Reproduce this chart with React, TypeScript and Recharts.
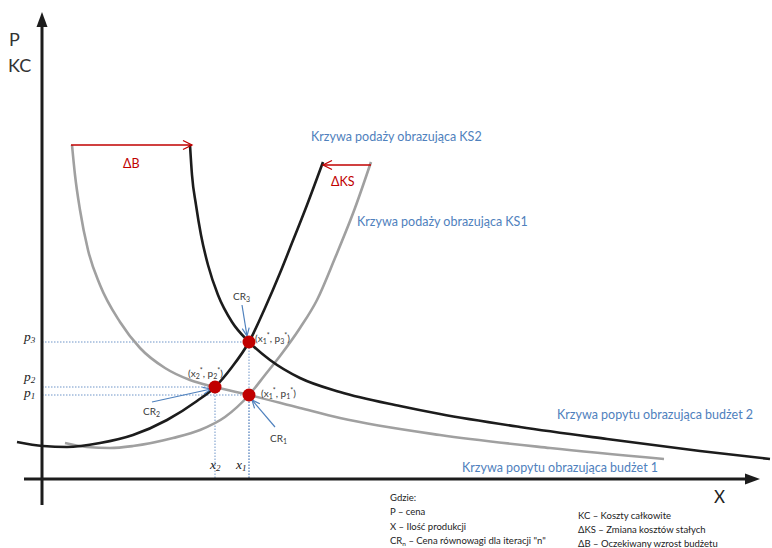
import { ComposedChart, Line, Scatter, XAxis, YAxis, ReferenceLine } from "recharts";

// Chart units: x = quantity, y = price/cost, origin where the two axes cross.
const DEMAND_B1 = [
  { x: 30, y: 333 }, { x: 33, y: 303 }, { x: 38, y: 268 }, { x: 46, y: 228 },
  { x: 58, y: 193 }, { x: 78, y: 156 }, { x: 98, y: 130 }, { x: 123, y: 110 },
  { x: 148, y: 98 }, { x: 173, y: 91 }, { x: 207, y: 83 }, { x: 258, y: 70 },
  { x: 298, y: 60 }, { x: 398, y: 43 }, { x: 508, y: 30 }, { x: 622, y: 19 },
];
const DEMAND_B2 = [
  { x: 148, y: 333 }, { x: 150, y: 303 }, { x: 154, y: 273 }, { x: 159, y: 243 },
  { x: 166, y: 213 }, { x: 176, y: 183 }, { x: 190, y: 156 }, { x: 207, y: 136 },
  { x: 228, y: 118 }, { x: 258, y: 100 }, { x: 298, y: 86 }, { x: 358, y: 72 },
  { x: 398, y: 64 }, { x: 478, y: 51 }, { x: 565, y: 39 }, { x: 658, y: 27 },
  { x: 728, y: 19 },
];
const SUPPLY_KS1 = [
  { x: 23, y: 35 }, { x: 45, y: 31 }, { x: 68, y: 30 }, { x: 91, y: 32 },
  { x: 131, y: 40 }, { x: 158, y: 48 }, { x: 183, y: 61 }, { x: 207, y: 83 },
  { x: 223, y: 103 }, { x: 238, y: 122 }, { x: 258, y: 150 }, { x: 275, y: 178 },
  { x: 293, y: 220 }, { x: 313, y: 270 }, { x: 329, y: 316 },
];
const SUPPLY_KS2 = [
  { x: -25, y: 36 }, { x: 1, y: 32 }, { x: 25, y: 31 }, { x: 58, y: 35 },
  { x: 91, y: 43 }, { x: 125, y: 58 }, { x: 155, y: 77 }, { x: 173, y: 91 },
  { x: 190, y: 111 }, { x: 207, y: 136 }, { x: 223, y: 170 }, { x: 238, y: 205 },
  { x: 248, y: 230 }, { x: 265, y: 273 }, { x: 281, y: 316 },
];

// equilibrium points CR1..CR3
const EQUILIBRIA = [
  { x: 207, y: 83 },
  { x: 173, y: 91 },
  { x: 207, y: 136 },
];
const P_TICKS = [83, 91, 136];
const P_SUBS = ["1", "2", "3"];
const X_TICKS = [173, 207];
const X_SUBS = ["2", "1"];

const BUDGET_SHIFT = [{ x: 29, y: 333 }, { x: 150, y: 333 }];
const COST_SHIFT = [{ x: 329, y: 313 }, { x: 281, y: 313 }];
const CR_ARROWS = [
  [{ x: 233, y: 51 }, { x: 210, y: 78 }],
  [{ x: 110, y: 76 }, { x: 169, y: 89 }],
  [{ x: 200, y: 173 }, { x: 205, y: 142 }],
];
const X_AXIS = [{ x: -18, y: -1 }, { x: 718, y: -1 }];
const Y_AXIS = [{ x: 0, y: -27 }, { x: 0, y: 466 }];

const W = 772;
const H = 548;
const BLACK = "#1c1c1c";
const GREY = "#a0a0a0";
const RED = "#c00000";
const BLUE = "#4f81bd";
const GUIDE = "#6f95c8";
const TEXT = "#3a3a3a";
const FONT = "Lato, 'Noto Sans', sans-serif";

type Seg = { x1?: number | string; y1?: number | string; x2?: number | string; y2?: number | string };

// line with an arrow head at its second point
const arrow =
  (color: string, width: number, filled: boolean, len: number, half: number) =>
  (p: Seg) => {
    const x1 = Number(p.x1), y1 = Number(p.y1), x2 = Number(p.x2), y2 = Number(p.y2);
    const a = Math.atan2(y2 - y1, x2 - x1);
    const ux = Math.cos(a), uy = Math.sin(a);
    const bx = x2 - ux * len, by = y2 - uy * len;
    const lx = bx - uy * half, ly = by + ux * half;
    const rx = bx + uy * half, ry = by - ux * half;
    if (filled) {
      return (
        <g>
          <line x1={x1} y1={y1} x2={bx} y2={by} stroke={color} strokeWidth={width} />
          <path d={`M${x2},${y2}L${lx},${ly}L${rx},${ry}Z`} fill={color} />
        </g>
      );
    }
    return (
      <g>
        <line x1={x1} y1={y1} x2={x2} y2={y2} stroke={color} strokeWidth={width} />
        <polyline
          points={`${lx},${ly} ${x2},${y2} ${rx},${ry}`}
          fill="none"
          stroke={color}
          strokeWidth={width}
        />
      </g>
    );
  };

// p1 and p2 sit close together, so they are pushed apart a little
function PTick(props: any) {
  const { y, index } = props;
  const sub = P_SUBS[index];
  const nudge = sub === "2" ? -5 : sub === "1" ? 3 : 0;
  return (
    <text
      x={24}
      y={y - 1 + nudge}
      fontFamily="'Liberation Serif', serif"
      fontStyle="italic"
      fontSize={13.5}
      fill="#222"
      textAnchor="start"
    >
      p<tspan fontSize={9} dy={2}>{sub}</tspan>
    </text>
  );
}

function XTick(props: any) {
  const { x, index } = props;
  const sub = X_SUBS[index];
  const shift = sub === "1" ? -13 : -5;
  return (
    <text
      x={x + shift}
      y={469}
      fontFamily="'Liberation Serif', serif"
      fontStyle="italic"
      fontSize={13.5}
      fill="#222"
      textAnchor="start"
    >
      x<tspan fontSize={9} dy={2}>{sub}</tspan>
    </text>
  );
}

function Star({ x, y, a, b, aSub, bSub }: { x: number; y: number; a: string; b: string; aSub: string; bSub: string }) {
  return (
    <text x={x} y={y} fontSize={10} fill={TEXT} fontFamily={FONT}>
      ({a}
      <tspan fontSize={7} dy={2}>{aSub}</tspan>
      <tspan fontSize={7} dy={-6}>*</tspan>
      <tspan dy={4}>, {b}</tspan>
      <tspan fontSize={7} dy={2}>{bSub}</tspan>
      <tspan fontSize={7} dy={-6}>*</tspan>
      <tspan dy={4}>)</tspan>
    </text>
  );
}

function CR({ x, y, n }: { x: number; y: number; n: string }) {
  return (
    <text x={x} y={y} fontSize={10} fill={TEXT} fontFamily={FONT}>
      CR<tspan fontSize={7} dy={2}>{n}</tspan>
    </text>
  );
}

export default function App() {
  const guides = EQUILIBRIA.flatMap((p) => [
    [{ x: 0, y: p.y }, { x: p.x, y: p.y }],
    [{ x: p.x, y: 0 }, { x: p.x, y: p.y }],
  ]);
  const curve = (data: { x: number; y: number }[], color: string, key: string) => (
    <Line
      key={key}
      data={data}
      dataKey="y"
      type="monotone"
      stroke={color}
      strokeWidth={2.6}
      dot={false}
      activeDot={false}
      isAnimationActive={false}
    />
  );

  return (
    <div style={{ position: "relative", width: W, height: H, background: "#fff" }}>
      <style>{`body{margin:0}`}</style>
      <ComposedChart width={W} height={H} margin={{ top: 0, right: 0, bottom: 0, left: 0 }}>
        <XAxis
          type="number"
          dataKey="x"
          domain={[-41, 730]}
          allowDataOverflow
          height={1}
          axisLine={false}
          tickLine={false}
          ticks={X_TICKS}
          interval={0}
          tick={<XTick />}
        />
        <YAxis
          type="number"
          domain={[-69, 478]}
          allowDataOverflow
          width={1}
          axisLine={false}
          tickLine={false}
          ticks={P_TICKS}
          interval={0}
          tick={<PTick />}
        />
        {guides.map((g, i) => (
          <Line
            key={`g${i}`}
            data={g}
            dataKey="y"
            type="linear"
            stroke={GUIDE}
            strokeWidth={1}
            strokeDasharray="1.5 1.5"
            dot={false}
            activeDot={false}
            isAnimationActive={false}
          />
        ))}
        {curve(SUPPLY_KS1, GREY, "ks1")}
        {curve(DEMAND_B1, GREY, "b1")}
        {curve(SUPPLY_KS2, BLACK, "ks2")}
        {curve(DEMAND_B2, BLACK, "b2")}
        <Scatter
          data={EQUILIBRIA}
          dataKey="y"
          isAnimationActive={false}
          shape={(p: any) => <circle cx={p.cx} cy={p.cy} r={6.5} fill={RED} />}
        />
        <ReferenceLine segment={Y_AXIS} ifOverflow="visible" shape={arrow(BLACK, 3, true, 15, 5.5)} />
        <ReferenceLine segment={X_AXIS} ifOverflow="visible" shape={arrow(BLACK, 3, true, 15, 5.5)} />
        <ReferenceLine segment={BUDGET_SHIFT} ifOverflow="visible" shape={arrow(RED, 1.3, false, 9, 4.5)} />
        <ReferenceLine segment={COST_SHIFT} ifOverflow="visible" shape={arrow(RED, 1.3, false, 9, 4.5)} />
        {CR_ARROWS.map((s, i) => (
          <ReferenceLine key={`cr${i}`} segment={s} ifOverflow="visible" shape={arrow(BLUE, 1.2, false, 8, 3.5)} />
        ))}
      </ComposedChart>
      <svg
        width={W}
        height={H}
        style={{ position: "absolute", left: 0, top: 0, pointerEvents: "none" }}
      >
        <g fontFamily={FONT}>
          <text x={9} y={46} fontSize={18} fill="#333">P</text>
          <text x={8} y={72} fontSize={18} fill="#333">KC</text>
          <text x={714} y={503} fontSize={17} fill="#222">X</text>

          <text x={311} y={141} fontSize={12.5} fill={BLUE}>Krzywa podaży obrazująca KS2</text>
          <text x={357} y={226} fontSize={12.5} fill={BLUE}>Krzywa podaży obrazująca KS1</text>
          <text x={557} y={419} fontSize={12.5} fill={BLUE}>Krzywa popytu obrazująca budżet 2</text>
          <text x={462} y={472} fontSize={12.5} fill={BLUE}>Krzywa popytu obrazująca budżet 1</text>

          <text x={123} y={168} fontSize={12.5} fill={RED}>ΔB</text>
          <text x={331} y={186} fontSize={12.5} fill={RED}>ΔKS</text>
        </g>
        <CR x={233} y={300} n="3" />
        <CR x={143} y={415} n="2" />
        <CR x={270} y={442} n="1" />
        <Star x={255} y={342} a="x" aSub="1" b="p" bSub="3" />
        <Star x={188} y={377} a="x" aSub="2" b="p" bSub="2" />
        <Star x={261} y={397} a="x" aSub="1" b="p" bSub="1" />
        <g fontFamily={FONT} fontSize={9.5} fill="#222">
          <text x={390} y={501}>Gdzie:</text>
          <text x={390} y={515}>P – cena</text>
          <text x={390} y={530}>X – Ilość produkcji</text>
          <text x={390} y={544}>
            CR<tspan fontSize={6.5} dy={2}>n</tspan>
            <tspan dy={-2}> – Cena równowagi dla iteracji "n"</tspan>
          </text>
          <text x={578} y={519}>KC – Koszty całkowite</text>
          <text x={578} y={533}>ΔKS – Zmiana kosztów stałych</text>
          <text x={578} y={547}>ΔB – Oczekiwany wzrost budżetu</text>
        </g>
      </svg>
    </div>
  );
}
